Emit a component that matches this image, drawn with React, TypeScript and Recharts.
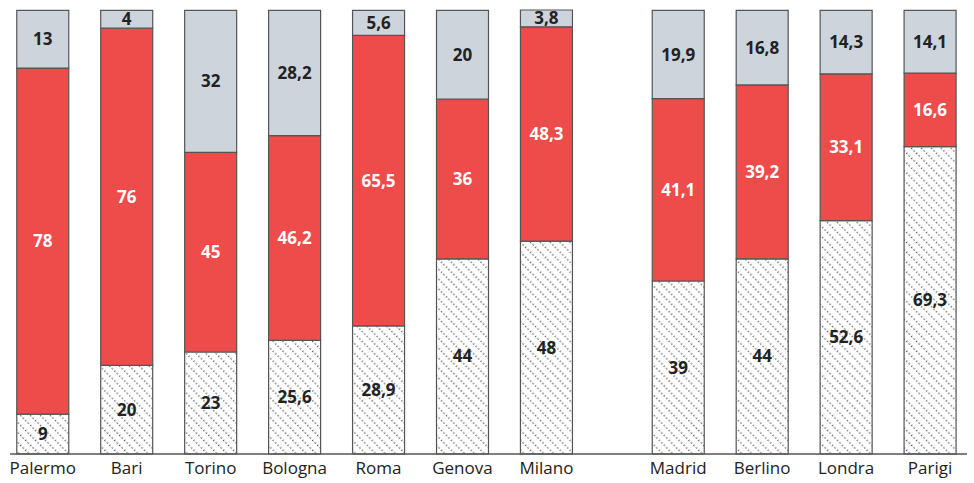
import { BarChart, Bar, XAxis, YAxis, LabelList } from "recharts";

const cities = ["Palermo", "Bari", "Torino", "Bologna", "Roma", "Genova", "Milano", "Madrid", "Berlino", "Londra", "Parigi"];
// x positions: gap between the Italian and the foreign cities
const positions = [0, 1, 2, 3, 4, 5, 6, 7.57, 8.57, 9.57, 10.57];
const hatched = [9, 20, 23, 25.6, 28.9, 44, 48, 39, 44, 52.6, 69.3];
const red = [78, 76, 45, 46.2, 65.5, 36, 48.3, 41.1, 39.2, 33.1, 16.6];
const grey = [13, 4, 32, 28.2, 5.6, 20, 3.8, 19.9, 16.8, 14.3, 14.1];

const data = cities.map((name, i) => ({
  name,
  x: positions[i],
  hatched: hatched[i],
  red: red[i],
  grey: grey[i],
}));

const FONT = "'Open Sans', sans-serif";
const fmt = (v: any) => String(v).replace(".", ",");
const nameAt = (x: number) => {
  const i = positions.indexOf(x);
  return i >= 0 ? cities[i] : "";
};

const labelStyle = { fontFamily: FONT, fontSize: 17, fontWeight: 700 };

export default function App() {
  return (
    <div style={{ position: "absolute", left: 0, top: 0, background: "#fff" }}>
      <BarChart
        width={974}
        height={483}
        data={data}
        margin={{ top: 10, right: 7, bottom: 0, left: 10 }}
      >
        <defs>
          <pattern id="hatch" width="7" height="7" patternUnits="userSpaceOnUse" patternTransform="rotate(-45)">
            <rect width="7" height="7" fill="#fff" />
            <line x1="0.7" y1="0" x2="0.7" y2="7" stroke="#555" strokeWidth="1.4" strokeDasharray="1.3 2.2" />
          </pattern>
        </defs>
        <XAxis
          type="number"
          dataKey="x"
          domain={[-0.39, 11.01]}
          ticks={positions}
          interval={0}
          tickFormatter={nameAt}
          tickLine={false}
          axisLine={{ stroke: "#555", strokeWidth: 1.5 }}
          height={29}
          tick={{ fill: "#222", fontSize: 17, fontFamily: FONT }}
          tickMargin={2}
          allowDataOverflow
        />
        <YAxis hide domain={[0, 100]} />
        <Bar dataKey="hatched" stackId="a" fill="url(#hatch)" stroke="#555" strokeWidth={1.2} barSize={52} isAnimationActive={false}>
          <LabelList dataKey="hatched" position="center" formatter={fmt} fill="#222" style={labelStyle} />
        </Bar>
        <Bar dataKey="red" stackId="a" fill="#EE4B4B" stroke="#555" strokeWidth={1.2} barSize={52} isAnimationActive={false}>
          <LabelList dataKey="red" position="center" formatter={fmt} fill="#fff" style={labelStyle} />
        </Bar>
        <Bar dataKey="grey" stackId="a" fill="#CDD4DC" stroke="#555" strokeWidth={1.2} barSize={52} isAnimationActive={false}>
          <LabelList dataKey="grey" position="center" formatter={fmt} fill="#222" style={labelStyle} />
        </Bar>
      </BarChart>
    </div>
  );
}
